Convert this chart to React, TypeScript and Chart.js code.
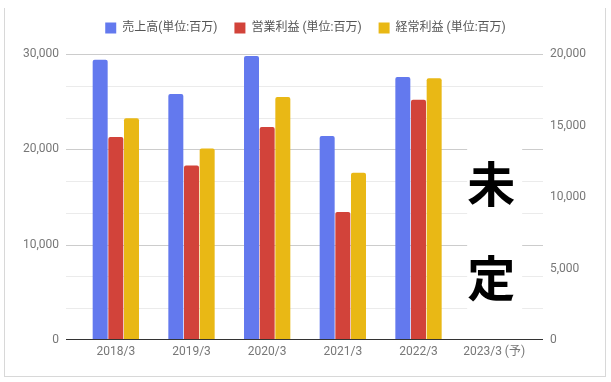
import React, { useEffect, useRef } from 'react';
import { Chart, registerables } from 'chart.js';

Chart.register(...registerables);

const categories = ['2018/3', '2019/3', '2020/3', '2021/3', '2022/3', '2023/3 (予)'];
const seriesNames = ['売上高(単位:百万)', '営業利益 (単位:百万)', '経常利益 (単位:百万)'];
const salesValues = [29400, 25800, 29800, 21400, 27600, null];
const operatingProfitValues = [14200, 12200, 14900, 8950, 16800, null];
const ordinaryProfitValues = [15500, 13400, 17000, 11700, 18300, null];
const seriesColors = ['#6379EE', '#D2433A', '#E9B815'];
const leftTicks = [0, 10000, 20000, 30000];
const rightTicks = [0, 5000, 10000, 15000, 20000];
const pendingText = ['未', '定'];

const FONT = "Roboto, 'Noto Sans CJK JP', sans-serif";

const gridPlugin = {
  id: 'extendedGrid',
  beforeDatasetsDraw(chart: any) {
    const { ctx, chartArea } = chart;
    const y = chart.scales.y;
    const left = chartArea.left - 12;
    const right = chartArea.right + 11;
    ctx.save();
    ctx.lineWidth = 1;
    for (let i = 0; i < leftTicks.length; i++) {
      const v = leftTicks[i];
      if (i > 0) {
        const prev = leftTicks[i - 1];
        for (let k = 1; k < 3; k++) {
          const mv = prev + ((v - prev) * k) / 3;
          const py = Math.round(y.getPixelForValue(mv)) + 0.5;
          ctx.strokeStyle = '#ebebeb';
          ctx.beginPath();
          ctx.moveTo(left, py);
          ctx.lineTo(right, py);
          ctx.stroke();
        }
      }
      if (v !== 0) {
        const py = Math.round(y.getPixelForValue(v)) + 0.5;
        ctx.strokeStyle = '#cccccc';
        ctx.beginPath();
        ctx.moveTo(left, py);
        ctx.lineTo(right, py);
        ctx.stroke();
      }
    }
    ctx.restore();
  },
  afterDatasetsDraw(chart: any) {
    const { ctx, chartArea } = chart;
    const y = chart.scales.y;
    const x = chart.scales.x;
    const left = chartArea.left - 12;
    const right = chartArea.right + 11;
    ctx.save();
    // baseline
    const py = Math.round(y.getPixelForValue(0)) - 0.5;
    ctx.strokeStyle = '#333333';
    ctx.lineWidth = 1;
    ctx.beginPath();
    ctx.moveTo(left, py);
    ctx.lineTo(right, py);
    ctx.stroke();
    // pending annotation
    const cx = x.getPixelForValue(categories.length - 1) - 3;
    ctx.fillStyle = '#ffffff';
    ctx.fillRect(cx - 24, chartArea.top + 86, 55, 182);
    ctx.fillStyle = '#000000';
    ctx.font = `bold 48px 'Noto Sans CJK JP', sans-serif`;
    ctx.textAlign = 'center';
    ctx.textBaseline = 'middle';
    ctx.fillText(pendingText[0], cx, chartArea.top + 130);
    ctx.fillText(pendingText[1], cx, chartArea.top + 224);
    ctx.restore();
  },
};

const legendSpacing = {
  id: 'legendSpacing',
  beforeInit(chart: any) {
    const orig = chart.legend.fit;
    chart.legend.fit = function () {
      orig.call(this);
      this.height += 10;
    };
  },
};

export default function App() {
  const ref = useRef<HTMLCanvasElement>(null);

  useEffect(() => {
    if (!ref.current) return;
    Chart.defaults.font.family = FONT;
    const chart = new Chart(ref.current, {
      type: 'bar',
      data: {
        labels: categories,
        datasets: [
          { label: seriesNames[0], data: salesValues, backgroundColor: seriesColors[0], yAxisID: 'y' },
          { label: seriesNames[1], data: operatingProfitValues, backgroundColor: seriesColors[1], yAxisID: 'y1' },
          { label: seriesNames[2], data: ordinaryProfitValues, backgroundColor: seriesColors[2], yAxisID: 'y1' },
        ].map((d) => ({
          ...d,
          borderWidth: 0,
          borderRadius: { topLeft: 2, topRight: 2, bottomLeft: 0, bottomRight: 0 },
          categoryPercentage: 0.621,
          barPercentage: 0.957,
        })) as any,
      },
      options: {
        responsive: false,
        animation: false,
        layout: { padding: { top: 5, left: 0, right: 0, bottom: 0 } },
        plugins: {
          legend: {
            display: true,
            position: 'top',
            labels: {
              boxWidth: 11,
              boxHeight: 11,
              padding: 17,
              color: '#555555',
              font: { size: 12, family: FONT },
            },
          },
          tooltip: { enabled: false },
        },
        scales: {
          x: {
            type: 'category',
            grid: { display: false, drawTicks: false },
            border: { display: false },
            ticks: { color: '#777777', font: { size: 12, family: FONT }, padding: 5, maxRotation: 0, autoSkip: false },
            afterFit: (s: any) => { s.height = 42; },
          },
          y: {
            type: 'linear',
            position: 'left',
            min: 0,
            max: leftTicks[leftTicks.length - 1],
            afterBuildTicks: (s: any) => { s.ticks = leftTicks.map((v) => ({ value: v })); },
            grid: { display: false, drawTicks: false },
            border: { display: false },
            ticks: {
              color: '#777777',
              font: { size: 12, family: FONT },
              padding: 19,
              callback: (v: any) => Number(v).toLocaleString('en-US'),
            },
            afterFit: (s: any) => { s.width = 78; },
          },
          y1: {
            type: 'linear',
            position: 'right',
            min: 0,
            max: rightTicks[rightTicks.length - 1],
            afterBuildTicks: (s: any) => { s.ticks = rightTicks.map((v) => ({ value: v })); },
            grid: { display: false, drawTicks: false },
            border: { display: false },
            ticks: {
              color: '#777777',
              font: { size: 12, family: FONT },
              padding: 18,
              callback: (v: any) => Number(v).toLocaleString('en-US'),
            },
            afterFit: (s: any) => { s.width = 79; },
          },
        },
      } as any,
      plugins: [gridPlugin, legendSpacing],
    });
    return () => chart.destroy();
  }, []);

  return (
    <div style={{ position: 'fixed', left: 0, top: 0, width: 611, height: 382, background: '#ffffff' }}>
      <canvas ref={ref} width={611} height={382} style={{ display: 'block', width: 611, height: 382 }} />
      <div
        style={{
          position: 'absolute',
          left: 4,
          top: 8,
          width: 600,
          height: 368,
          borderLeft: '1px solid #d8d8d8',
          borderRight: '1px solid #d8d8d8',
          borderBottom: '1px solid #d8d8d8',
          pointerEvents: 'none',
        }}
      />
    </div>
  );
}
